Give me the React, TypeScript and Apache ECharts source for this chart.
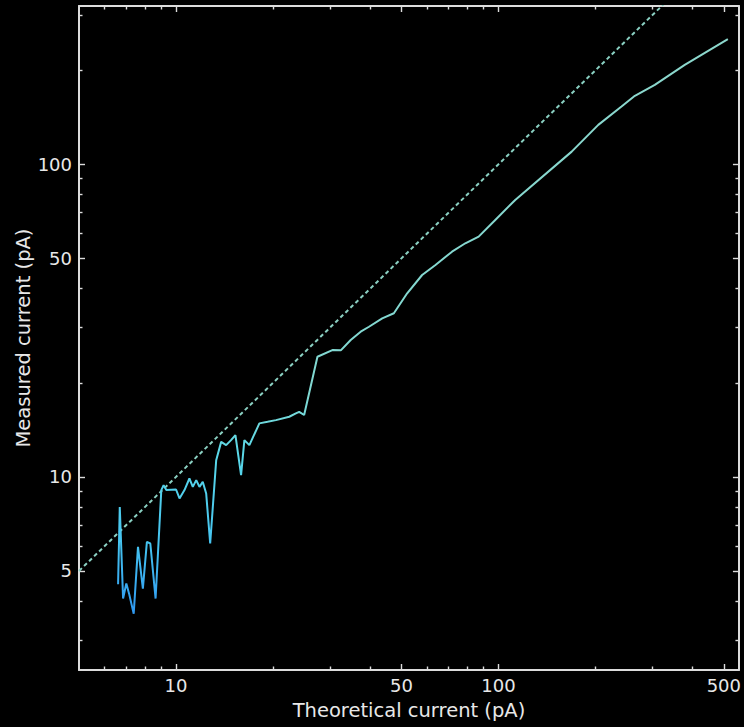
import React, { useEffect, useRef } from "react";
import * as echarts from "echarts";

// Measured trace (pA)
const theoreticalCurrent = [6.61, 6.69, 6.85, 7.01, 7.15, 7.39, 7.62, 7.89, 8.12, 8.32, 8.64, 9.0, 9.15, 9.33, 10.0, 10.25, 10.62, 11.0, 11.27, 11.55, 11.82, 12.1, 12.4, 12.76, 13.32, 13.8, 14.3, 14.81, 15.28, 15.91, 16.29, 16.88, 18.13, 19.22, 20.41, 22.44, 23.53, 24.09, 24.96, 27.45, 30.54, 32.43, 34.81, 37.38, 39.67, 43.6, 47.38, 52.1, 57.97, 63.77, 71.77, 78.93, 86.81, 97.74, 112.7, 168.7, 204, 240.8, 264.9, 305.4, 378.2, 514.6];
const measuredCurrent = [4.53, 8.01, 4.08, 4.56, 4.23, 3.65, 5.97, 4.39, 6.19, 6.12, 4.08, 9.07, 9.41, 9.07, 9.11, 8.53, 9.07, 9.88, 9.29, 9.76, 9.29, 9.64, 8.85, 6.12, 11.31, 12.94, 12.63, 13.11, 13.6, 10.13, 13.11, 12.63, 14.83, 15.0, 15.19, 15.57, 15.96, 16.15, 15.77, 24.23, 25.45, 25.4, 27.4, 29.13, 30.22, 32.15, 33.37, 38.66, 44.24, 47.64, 52.54, 55.89, 58.68, 66.37, 76.91, 109.8, 133.7, 153.0, 165.6, 179.6, 208.1, 251.5];

// Ideal y = x reference line
const idealX = [5, 1000];
const idealY = [5, 1000];

// Axis ticks
const xMajorTicks = [10, 50, 100, 500];
const xMinorTicks = [6, 7, 8, 9, 20, 30, 40, 60, 70, 80, 90, 200, 300, 400];
const yMajorTicks = [5, 10, 50, 100];
const yMinorTicks = [3, 4, 6, 7, 8, 9, 20, 30, 40, 60, 70, 80, 90, 200, 300];

const X_MIN = 5;
const X_MAX = 557;
const Y_MIN = 2.41;
const Y_MAX = 321;

const AXIS_COLOR = "#dcdcdc";
const TEXT_COLOR = "#e8e8e8";
const FONT = "DejaVu Sans";

function mkAxis(
  position: string,
  min: number,
  max: number,
  ticks: number[],
  len: number,
  showLine: boolean,
  labels: boolean,
  extra: any = {}
) {
  return {
    type: "log",
    logBase: 10,
    position,
    min,
    max,
    gridIndex: 0,
    axisLine: { show: showLine, onZero: false, lineStyle: { color: AXIS_COLOR, width: 2 } },
    axisTick: {
      show: true,
      inside: true,
      length: len,
      customValues: ticks,
      lineStyle: { color: AXIS_COLOR, width: 1.4 },
    },
    axisLabel: labels
      ? {
          show: true,
          customValues: ticks,
          color: TEXT_COLOR,
          fontSize: 18,
          fontFamily: FONT,
          margin: position === "bottom" ? 6 : 7,
        }
      : { show: false },
    splitLine: { show: false },
    minorTick: { show: false },
    minorSplitLine: { show: false },
    ...extra,
  };
}

export default function App() {
  const ref = useRef<HTMLDivElement>(null);

  useEffect(() => {
    if (!ref.current) return;
    const chart = echarts.init(ref.current, null, { renderer: "svg" });

    const gradient = new echarts.graphic.LinearGradient(0, 0, 0, 1, [
      { offset: 0, color: "#8cd7cc" },
      { offset: 0.62, color: "#80d8d2" },
      { offset: 0.72, color: "#5ad8e8" },
      { offset: 0.88, color: "#45c3f0" },
      { offset: 1, color: "#2f98f0" },
    ]);

    chart.setOption({
      animation: false,
      backgroundColor: "#000000",
      grid: { left: 79, right: 3, top: 6, bottom: 57, containLabel: false },
      xAxis: [
        mkAxis("bottom", X_MIN, X_MAX, xMajorTicks, 6, true, true, {
          name: "Theoretical current (pA)",
          nameLocation: "middle",
          nameGap: 30,
          nameMoveOverlap: false,
          nameTextStyle: { color: TEXT_COLOR, fontSize: 19.5, fontFamily: FONT },
        }),
        mkAxis("bottom", X_MIN, X_MAX, xMinorTicks, 3.5, false, false),
        mkAxis("top", X_MIN, X_MAX, xMajorTicks, 6, true, false),
        mkAxis("top", X_MIN, X_MAX, xMinorTicks, 3.5, false, false),
      ],
      yAxis: [
        mkAxis("left", Y_MIN, Y_MAX, yMajorTicks, 6, true, true, {
          name: "Measured current (pA)",
          nameLocation: "middle",
          nameGap: 46,
          nameMoveOverlap: false,
          nameTextStyle: { color: TEXT_COLOR, fontSize: 19.5, fontFamily: FONT },
        }),
        mkAxis("left", Y_MIN, Y_MAX, yMinorTicks, 3.5, false, false),
        mkAxis("right", Y_MIN, Y_MAX, yMajorTicks, 6, true, false),
        mkAxis("right", Y_MIN, Y_MAX, yMinorTicks, 3.5, false, false),
      ],
      series: [
        {
          type: "line",
          name: "Ideal",
          xAxisIndex: 0,
          yAxisIndex: 0,
          data: idealX.map((x, i) => [x, idealY[i]]),
          symbol: "none",
          showSymbol: false,
          clip: true,
          lineStyle: { color: "#8ad0c2", width: 2, type: [4, 3] },
          z: 2,
        },
        {
          type: "line",
          name: "Measured",
          xAxisIndex: 0,
          yAxisIndex: 0,
          data: theoreticalCurrent.map((x, i) => [x, measuredCurrent[i]]),
          symbol: "none",
          showSymbol: false,
          clip: true,
          lineStyle: { color: gradient, width: 2 },
          z: 3,
        },
      ],
    });

    return () => {
      chart.dispose();
    };
  }, []);

  return (
    <div
      ref={ref}
      style={{
        position: "fixed",
        left: 0,
        top: 0,
        width: 744,
        height: 727,
        background: "#000000",
      }}
    />
  );
}
